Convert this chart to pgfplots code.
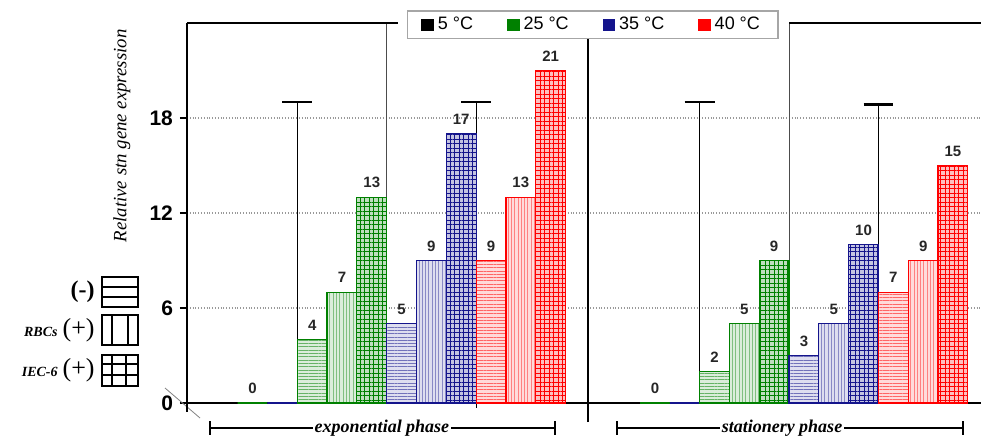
\documentclass[border=0pt]{standalone}
\usepackage{pgfplots}
\pgfplotsset{compat=1.18}
\usetikzlibrary{patterns.meta}
\usepackage{fontspec}
\setmainfont{Liberation Sans}
\newfontfamily\serif{Liberation Serif}
\definecolor{cgreen}{RGB}{0,128,0}
\definecolor{cblue}{RGB}{20,20,140}
\definecolor{cred}{RGB}{255,0,0}
\pgfplotsset{
 hbar/.style={ybar, bar shift=0pt, forget plot, fill=#1!14, draw=#1, line width=0.6pt,
   postaction={pattern color=#1!60, pattern={Lines[angle=0,distance=1.65pt,line width=0.5pt]}}},
 vbar/.style={ybar, bar shift=0pt, forget plot, fill=#1!14, draw=#1, line width=0.6pt,
   postaction={pattern color=#1!50, pattern={Lines[angle=90,distance=1.65pt,line width=0.5pt]}}},
 gbar/.style={ybar, bar shift=0pt, forget plot, fill=#1!25, draw=#1, line width=0.6pt,
   postaction={pattern color=#1, pattern={Hatch[angle=0,distance=2.25pt,line width=0.4pt]}}},
 lbl/.style={nodes near coords, every node near coord/.append style={font=\bfseries\fontsize{7.5}{7.5}\selectfont, text=black!85, yshift=1pt}},
}
\begin{document}
\begin{tikzpicture}
\begin{axis}[
 scale only axis, width=397pt, height=190pt,
 xmin=-1.2, xmax=25.44, ymin=0, ymax=24,
 axis lines=left, axis line style={-, line width=1.2pt},
 xtick=\empty, ytick={0,6,12,18},
 tick align=outside, major tick length=3.5pt, tick style={line width=1pt, black},
 ymajorgrids, grid style={densely dotted, gray!80, line width=0.7pt},
 yticklabel style={font=\bfseries\fontsize{10.5}{10.5}\selectfont},
 /pgf/number format/assume math mode=true,
 clip=false,
 bar width=1,
 legend style={at={(0.511,0.995)}, anchor=center, draw=gray!70, line width=0.8pt, fill=white,
   font=\fontsize{9}{9}\selectfont, inner xsep=7pt, inner ysep=1pt,
   /tikz/every even column/.append style={column sep=15pt}},
 legend columns=4,
 legend image code/.code={\fill[#1, draw=none] (0pt,-3pt) rectangle (6.2pt,3.2pt);},
]
% background lines (error-bar like)
\addplot[forget plot, black, line width=0.5pt] coordinates {(2.5,0) (2.5,19)};
\addplot[forget plot, black, line width=0.5pt] coordinates {(8.5,-0.3) (8.5,19)};
\addplot[forget plot, black, line width=0.5pt] coordinates {(16,0) (16,19)};
\addplot[forget plot, black, line width=0.5pt] coordinates {(22,0) (22,18.85)};
\addplot[forget plot, black!70, line width=0.5pt] coordinates {(5.5,13) (5.5,24)};
\addplot[forget plot, black!70, line width=0.5pt] coordinates {(19,9) (19,24)};
% 5 C
\addplot[ybar, bar shift=0pt, forget plot, draw=black, line width=0.6pt] coordinates {(0,0) (13.5,0)};
\addplot[ybar, bar shift=0pt, forget plot, draw=cgreen, line width=0.6pt, lbl] coordinates {(1,0) (14.5,0)};
\addplot[ybar, bar shift=0pt, forget plot, draw=cblue, line width=0.6pt] coordinates {(2,0) (15.5,0)};
% 25 C
\addplot[hbar=cgreen, lbl] coordinates {(3,4) (16.5,2)};
\addplot[vbar=cgreen, lbl] coordinates {(4,7) (17.5,5)};
\addplot[gbar=cgreen, lbl] coordinates {(5,13) (18.5,9)};
% 35 C
\addplot[hbar=cblue, lbl] coordinates {(6,5) (19.5,3)};
\addplot[vbar=cblue, lbl] coordinates {(7,9) (20.5,5)};
\addplot[gbar=cblue, lbl] coordinates {(8,17) (21.5,10)};
% 40 C
\addplot[hbar=cred, lbl] coordinates {(9,9) (22.5,7)};
\addplot[vbar=cred, lbl] coordinates {(10,13) (23.5,9)};
\addplot[gbar=cred, lbl] coordinates {(11,21) (24.5,15)};
% caps
\addplot[forget plot, black, line width=1.2pt] coordinates {(2,19) (3,19)};
\addplot[forget plot, black, line width=1.2pt] coordinates {(8,19) (9,19)};
\addplot[forget plot, black, line width=1.2pt] coordinates {(15.5,19) (16.5,19)};
\addplot[forget plot, black, line width=1.2pt] coordinates {(21.5,18.85) (22.5,18.85)};
% separator
\addplot[forget plot, black, line width=0.9pt] coordinates {(12.25,-1.2) (12.25,23)};
% top line
\addplot[forget plot, black, line width=1.2pt] coordinates {(-1.2,24) (5.88,24)};
\addplot[forget plot, black, line width=1.2pt] coordinates {(19,24) (25.44,24)};
% legend
\addlegendimage{fill=black}\addlegendentry{5 °C}
\addlegendimage{fill=cgreen}\addlegendentry{25 °C}
\addlegendimage{fill=cblue}\addlegendentry{35 °C}
\addlegendimage{fill=cred}\addlegendentry{40 °C}
\node[rotate=90, font=\serif\itshape\fontsize{9.4}{9.4}\selectfont] at (rel axis cs:-0.082,0.703) {Relative stn gene expression};
\end{axis}
% origin marks
\draw[gray, line width=0.4pt] (-11pt,7.5pt) -- (6.5pt,-7.5pt);
\draw[line width=1.2pt] (0,0) -- (0,-4.5pt);
% pattern key
\begin{scope}[line width=1pt]
\draw (-42.5pt,48pt) rectangle (-24.5pt,63pt);
\draw (-42.5pt,53pt) -- (-24.5pt,53pt) (-42.5pt,58pt) -- (-24.5pt,58pt);
\draw (-42.5pt,29pt) rectangle (-24.5pt,44pt);
\draw (-37.5pt,29pt) -- (-37.5pt,44pt) (-29.5pt,29pt) -- (-29.5pt,44pt);
\draw (-42.5pt,8.5pt) rectangle (-24.5pt,24pt);
\draw (-37.5pt,8.5pt) -- (-37.5pt,24pt) (-30.5pt,8.5pt) -- (-30.5pt,24pt);
\draw (-42.5pt,14pt) -- (-24.5pt,14pt) (-42.5pt,19.5pt) -- (-24.5pt,19.5pt);
\end{scope}
\node[anchor=east, inner sep=0pt, font=\serif\bfseries\fontsize{12}{12}\selectfont] at (-46pt,55.5pt) {(-)};
\node[anchor=east, inner sep=0pt, font=\serif] at (-46pt,36.5pt) {{\fontsize{7}{7}\selectfont\bfseries\itshape RBCs} {\fontsize{13}{13}\selectfont(+)}};
\node[anchor=east, inner sep=0pt, font=\serif] at (-46pt,16.5pt) {{\fontsize{7}{7}\selectfont\bfseries\itshape IEC-6} {\fontsize{13}{13}\selectfont(+)}};
% phase brackets
\draw[line width=1pt] (11.5pt,-12.5pt) -- (184pt,-12.5pt) (11.5pt,-9pt) -- (11.5pt,-16pt) (184pt,-9pt) -- (184pt,-16pt);
\node[fill=white, inner xsep=1pt, inner ysep=0pt, font=\serif\bfseries\itshape\fontsize{9}{9}\selectfont] at (97.5pt,-12.5pt) {exponential phase};
\draw[line width=1pt] (215pt,-12.5pt) -- (388pt,-12.5pt) (215pt,-9pt) -- (215pt,-16pt) (388pt,-9pt) -- (388pt,-16pt);
\node[fill=white, inner xsep=1pt, inner ysep=0pt, font=\serif\bfseries\itshape\fontsize{9}{9}\selectfont] at (297.5pt,-12.5pt) {stationery phase};
\pgfresetboundingbox
\useasboundingbox (-93.5pt,-16.5pt) rectangle (397pt,201.5pt);
\end{tikzpicture}
\end{document}
